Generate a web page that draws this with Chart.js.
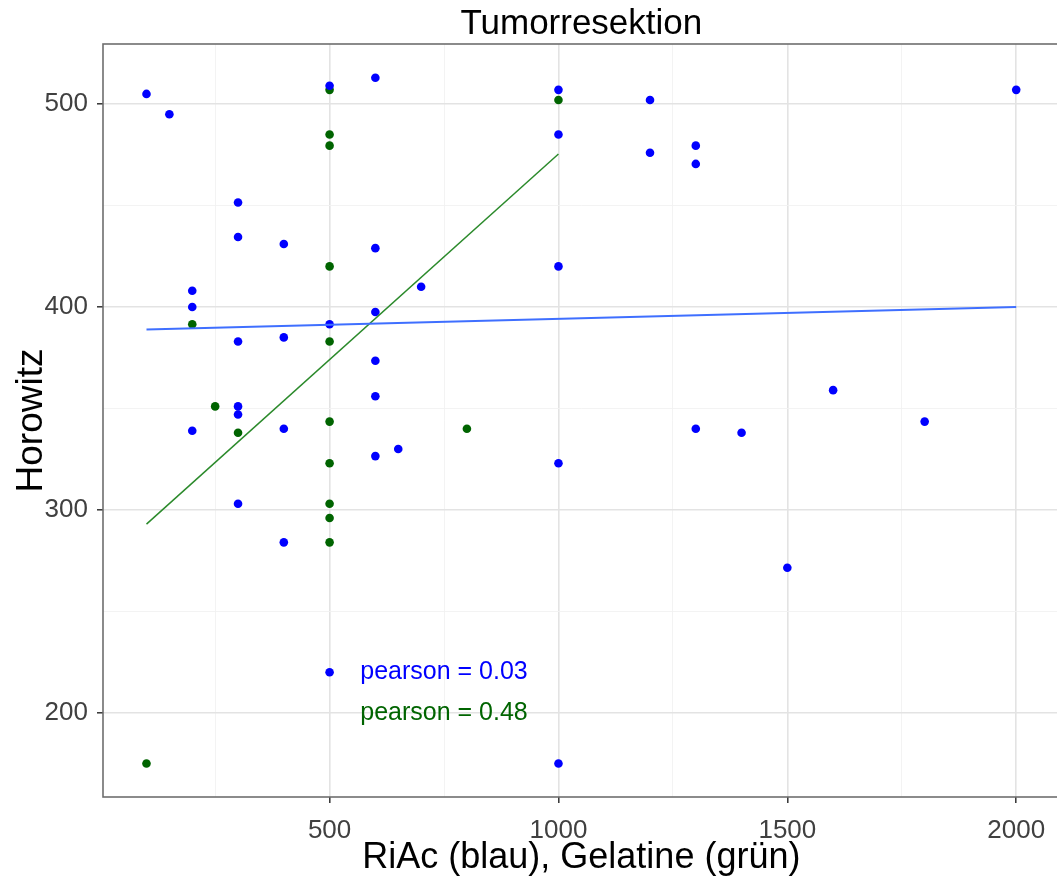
<!DOCTYPE html>
<html>
<head>
<meta charset="utf-8">
<title>Tumorresektion</title>
<script src="https://cdn.jsdelivr.net/npm/chart.js@4/dist/chart.umd.min.js"></script>
<style>
  html, body { margin: 0; padding: 0; background: #fff; overflow: hidden; width: 1057px; height: 879px; }
  #wrap { width: 1064px; height: 879px; }
</style>
</head>
<body>
<div id="wrap"><canvas id="c" width="1064" height="879"></canvas></div>
<script>
// RiAc (blau): dose vs. Horowitz index
const riacX = [100, 150, 500, 300, 300, 400, 200, 200, 500, 300, 400, 300, 300, 200, 400, 300, 400,
               600, 1000, 1000, 600, 1000, 700, 600, 600, 600, 650, 600, 1000,
               1200, 1200, 1300, 1300, 2000, 1300, 1400, 1600, 1800, 1500, 500, 1000];
const riacY = [505, 495, 509, 451.5, 434.5, 431, 408, 400, 391.5, 383, 385, 351, 347, 339, 340, 303, 284,
               513, 507, 485, 429, 420, 410, 397.5, 373.5, 356, 330, 326.5, 323,
               502, 476, 479.5, 470.5, 507, 340, 338, 359, 343.5, 271.5, 220, 175];

// Gelatine (grün): dose vs. Horowitz index
const gelX = [500, 500, 500, 500, 200, 500, 250, 300, 500, 500, 500, 500, 500, 800, 1000, 100];
const gelY = [507, 485, 479.5, 420, 391.5, 383, 351, 338, 343.5, 323, 303, 296, 284, 340, 502, 175];

// linear fits (start / end of each fitted line)
const riacFitX = [100, 2000];
const riacFitY = [388.9, 400.0];
const gelFitX = [100, 1000];
const gelFitY = [293.0, 475.4];

// correlation annotations
const corrText = ['pearson = 0.03', 'pearson = 0.48'];
const corrX = [750, 750];
const corrY = [220, 200];

// axis ticks
const xMajor = [500, 1000, 1500, 2000];
const xMinor = [250, 750, 1250, 1750];
const yMajor = [200, 300, 400, 500];
const yMinor = [250, 350, 450];

const FONT = '"Liberation Sans", Arial, sans-serif';
const BLUE = '#0000ff';
const GREEN = '#006400';

const toPts = (xs, ys) => xs.map((x, i) => ({ x: x, y: ys[i] }));
const isMajor = (list, v) => list.indexOf(v) !== -1;

const gridFor = (major) => ({
  color: (c) => (c.tick && isMajor(major, c.tick.value)) ? '#e3e3e3' : '#f2f2f2',
  lineWidth: (c) => (c.tick && isMajor(major, c.tick.value)) ? 1.6 : 0.9,
  tickColor: (c) => (c.tick && isMajor(major, c.tick.value)) ? '#333333' : 'rgba(0,0,0,0)',
  tickLength: 6,
  tickWidth: 1.5,
  drawTicks: true
});

const panelPlugin = {
  id: 'panel',
  afterDatasetsDraw(chart) {
    const { ctx, scales } = chart;
    ctx.save();
    ctx.font = '25px ' + FONT;
    ctx.textAlign = 'center';
    ctx.textBaseline = 'middle';
    const cols = [BLUE, GREEN];
    corrText.forEach((t, i) => {
      ctx.fillStyle = cols[i];
      ctx.fillText(t, scales.x.getPixelForValue(corrX[i]), scales.y.getPixelForValue(corrY[i]));
    });
    ctx.restore();
  },
  afterDraw(chart) {
    const { ctx, chartArea: a } = chart;
    ctx.save();
    ctx.strokeStyle = '#6e6e6e';
    ctx.lineWidth = 1.6;
    ctx.strokeRect(a.left, a.top, a.right - a.left, a.bottom - a.top);
    ctx.fillStyle = '#000';
    ctx.font = '35px ' + FONT;
    ctx.textAlign = 'center';
    ctx.textBaseline = 'middle';
    ctx.fillText('Tumorresektion', (a.left + a.right) / 2, 24);
    ctx.restore();
  }
};

new Chart(document.getElementById('c'), {
  type: 'scatter',
  data: {
    datasets: [
      { label: 'RiAc Fit', data: toPts(riacFitX, riacFitY), showLine: true, borderColor: '#3f6fff',
        borderWidth: 2, pointRadius: 0, fill: false },
      { label: 'Gelatine Fit', data: toPts(gelFitX, gelFitY), showLine: true, borderColor: '#2b8a2b',
        borderWidth: 1.5, pointRadius: 0, fill: false },
      { label: 'RiAc', data: toPts(riacX, riacY), pointBackgroundColor: BLUE, pointBorderWidth: 0,
        borderColor: BLUE, pointRadius: 4.3 },
      { label: 'Gelatine', data: toPts(gelX, gelY), pointBackgroundColor: GREEN, pointBorderWidth: 0,
        borderColor: GREEN, pointRadius: 4.3 }
    ]
  },
  options: {
    responsive: false,
    animation: false,
    events: [],
    layout: { padding: { top: 44, right: 3, left: 0, bottom: 0 } },
    plugins: { legend: { display: false }, tooltip: { enabled: false }, title: { display: false } },
    scales: {
      x: {
        type: 'linear', min: 5, max: 2095,
        afterBuildTicks: (s) => { s.ticks = xMinor.concat(xMajor).sort((a, b) => a - b).map(v => ({ value: v })); },
        afterFit: (s) => { s.height = 82; },
        grid: gridFor(xMajor),
        border: { display: false },
        ticks: {
          autoSkip: false, maxRotation: 0, padding: 12, color: '#404040',
          font: { family: FONT, size: 26 },
          callback: (v) => isMajor(xMajor, v) ? String(v) : ''
        },
        title: { display: true, text: 'RiAc (blau), Gelatine (grün)', color: '#000',
                 font: { family: FONT, size: 36, lineHeight: 1.0 }, padding: { top: 0, bottom: 3 } }
      },
      y: {
        type: 'linear', min: 158.5, max: 529.6,
        afterBuildTicks: (s) => { s.ticks = yMinor.concat(yMajor).sort((a, b) => a - b).map(v => ({ value: v })); },
        afterFit: (s) => { s.width = 103; },
        grid: gridFor(yMajor),
        border: { display: false },
        ticks: {
          autoSkip: false, padding: 9, color: '#404040',
          font: { family: FONT, size: 26 },
          callback: (v) => isMajor(yMajor, v) ? String(v) : ''
        },
        title: { display: true, text: 'Horowitz', color: '#000',
                 font: { family: FONT, size: 37 }, padding: { top: 10, bottom: 0 } }
      }
    }
  },
  plugins: [panelPlugin]
});
</script>
</body>
</html>
